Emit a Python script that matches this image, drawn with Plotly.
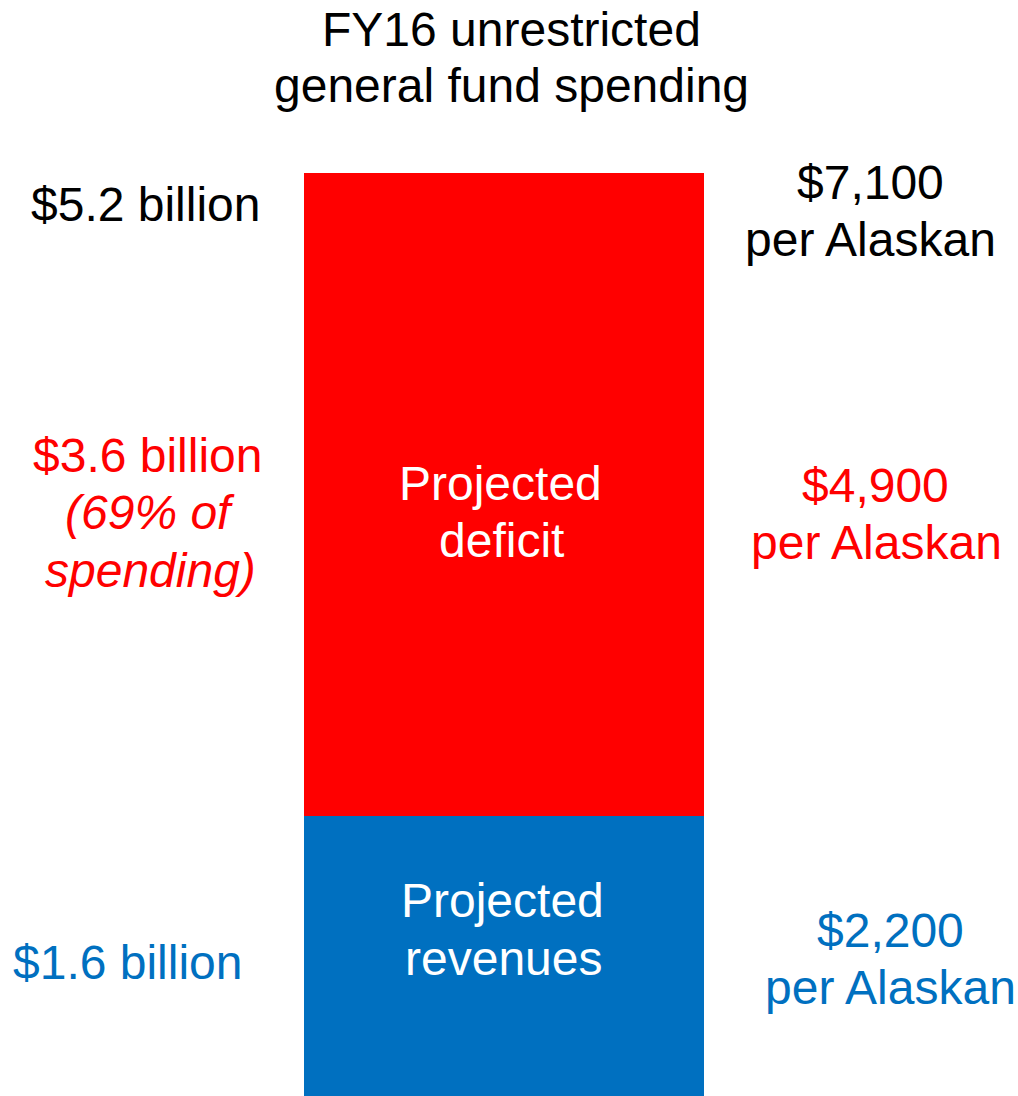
import plotly.graph_objects as go

# FY16 unrestricted general fund spending, $ billions
segments = ["Projected revenues", "Projected deficit"]
values_bn = [1.6, 3.6]
bar_colors = ["#0070C0", "#FF0000"]
bar_labels = [["Projected", "revenues"], ["Projected", "deficit"]]

total_bn = sum(values_bn)
pct_deficit = round(values_bn[1] / total_bn * 100)

per_capita = {"total": "$7,100", "deficit": "$4,900", "revenues": "$2,200"}

W, H = 1018, 1096
FONT = "Liberation Sans, Arial, sans-serif"
SIZE = 48

fig = go.Figure()
for name, v, c in zip(segments, values_bn, bar_colors):
    fig.add_trace(go.Bar(
        x=[504], y=[v], width=[400], name=name,
        marker=dict(color=c, line=dict(width=0)),
        hoverinfo="skip", showlegend=False,
    ))


def px(x, y):
    return x / W, 1 - y / H


def label(text, x, y, color="black", italic=False):
    ax, ay = px(x, y)
    fig.add_annotation(
        text=f"<i>{text}</i>" if italic else text,
        x=ax, y=ay, xref="paper", yref="paper",
        xanchor="center", yanchor="middle", showarrow=False,
        font=dict(family=FONT, size=SIZE, color=color),
    )


# Title
label("FY16 unrestricted", 511, 30)
label("general fund spending", 511, 85)

# Totals
label(f"${total_bn:.1f} billion", 146, 205)
label(per_capita["total"], 870, 183)
label("per Alaskan", 870, 240)

# Deficit
red, blue = bar_colors[1], bar_colors[0]
label(f"${values_bn[1]:.1f} billion", 148, 455, red)
label(f"({pct_deficit}% of", 150, 512, red, italic=True)
label("spending)", 150, 570, red, italic=True)
label(bar_labels[1][0], 500, 483, "white")
label(bar_labels[1][1], 501, 540, "white")
label(per_capita["deficit"], 875, 485, red)
label("per Alaskan", 876, 542, red)

# Revenues
label(f"${values_bn[0]:.1f} billion", 128, 962, blue)
label(bar_labels[0][0], 502, 900, "white")
label(bar_labels[0][1], 503, 958, "white")
label(per_capita["revenues"], 890, 930, blue)
label("per Alaskan", 890, 987, blue)

fig.update_layout(
    width=W, height=H, barmode="stack",
    margin=dict(l=0, r=0, t=0, b=0),
    paper_bgcolor="white", plot_bgcolor="white",
    xaxis=dict(range=[0, W], visible=False, fixedrange=True),
    yaxis=dict(range=[0.0325, 6.169], visible=False, fixedrange=True),
)

fig.write_html("out.html", config={"displayModeBar": False})
